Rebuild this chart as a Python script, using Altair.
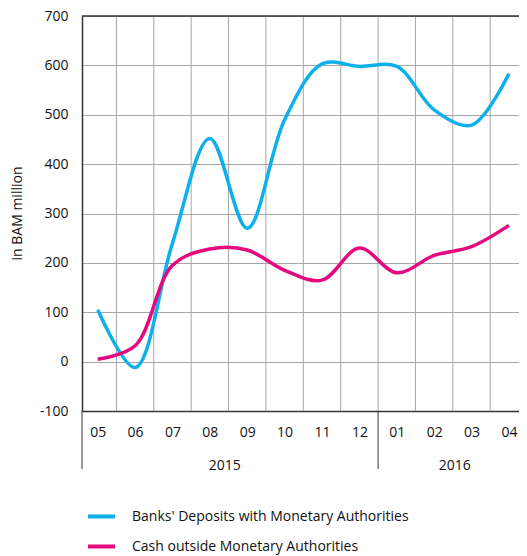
import json
import altair as alt
import pandas as pd

# ---- data ----
months = ["05", "06", "07", "08", "09", "10", "11", "12", "01", "02", "03", "04"]
banks = [105, -12, 240, 452, 270, 490, 603, 598, 598, 510, 479, 583]
cash = [5, 32, 195, 228, 226, 185, 165, 230, 180, 215, 233, 276]
series_names = ["Banks' Deposits with Monetary Authorities", "Cash outside Monetary Authorities"]
series_colors = ["#0db0ea", "#e5097f"]
years = ["2015", "2016"]
year_pos = [3.4, 9.55]
year_breaks = [-0.42, 7.5]
grid_x = [i + 0.5 for i in range(11)]
y_ticks = list(range(-100, 701, 100))
x_min, x_max = -0.42, 11.27

FONT = "Open Sans"
DARK = "#333333"
GRID = "#a6a6a6"
TXT = "#111111"

rows = []
for i, m in enumerate(months):
    rows.append({"idx": i, "month": m, "series": series_names[0], "value": banks[i]})
    rows.append({"idx": i, "month": m, "series": series_names[1], "value": cash[i]})
df = pd.DataFrame(rows)

xscale = alt.Scale(domain=[x_min, x_max], nice=False, zero=False)
yscale = alt.Scale(domain=[-100, 700], nice=False, zero=False)

label_expr = json.dumps(months) + "[datum.value]"

x_axis = alt.Axis(values=list(range(12)), labelExpr=label_expr, grid=False,
                  ticks=False, domain=True, domainColor=DARK, domainWidth=1.5,
                  labelPadding=14, labelFontSize=14, labelColor=TXT,
                  labelFont=FONT, title=None, labelFlush=False)
y_axis = alt.Axis(values=y_ticks, labelExpr="'' + datum.value", grid=True,
                  gridColor=GRID, gridWidth=1,
                  ticks=False, domain=True, domainColor=DARK, domainWidth=1.5,
                  labelPadding=14, labelFontSize=14, labelColor=TXT,
                  labelFont=FONT, title="in BAM million", titleFont=FONT,
                  titleFontSize=14, titleFontWeight="normal", titleColor=TXT,
                  titleAngle=270, titleAlign="center", titleBaseline="middle",
                  titleX=-65, titleY=197)

lines = alt.Chart(df).mark_line(interpolate="catmull-rom", strokeWidth=3.5).encode(
    x=alt.X("idx:Q", scale=xscale, axis=x_axis),
    y=alt.Y("value:Q", scale=yscale, axis=y_axis),
    color=alt.Color("series:N",
                    scale=alt.Scale(domain=series_names, range=series_colors),
                    legend=alt.Legend(title=None, orient="none", legendX=4, legendY=485,
                                      direction="vertical", symbolType="stroke",
                                      symbolSize=729, symbolStrokeWidth=4,
                                      labelFontSize=14, labelFont=FONT, labelColor=TXT,
                                      labelOffset=15, rowPadding=6, padding=0,
                                      labelLimit=400)),
)

vgrid = alt.Chart(pd.DataFrame({"idx": grid_x})).mark_rule(color=GRID, strokeWidth=1).encode(
    x=alt.X("idx:Q", scale=xscale, axis=x_axis)
)

top_border = alt.Chart(pd.DataFrame({"value": [700]})).mark_rule(color=DARK, strokeWidth=1.5).encode(
    y=alt.Y("value:Q", scale=yscale, axis=y_axis)
)

seps = alt.Chart(pd.DataFrame({"idx": year_breaks})).mark_rule(color=DARK, strokeWidth=1).encode(
    x=alt.X("idx:Q", scale=xscale, axis=x_axis),
    y=alt.value(395),
    y2=alt.value(453),
)

year_text = alt.Chart(pd.DataFrame({"idx": year_pos, "year": years})).mark_text(
    fontSize=14, font=FONT, color=TXT, baseline="middle", align="center"
).encode(
    x=alt.X("idx:Q", scale=xscale, axis=x_axis),
    y=alt.value(450),
    text="year:N",
)

chart = alt.layer(vgrid, top_border, seps, year_text, lines).properties(
    width=437, height=395,
    autosize=alt.AutoSizeParams(type="none"),
    padding={"left": 74, "top": 8, "right": 0, "bottom": 145},
).configure(font=FONT).configure_view(stroke=None)

chart.save("out.html", embed_options={"renderer": "svg", "actions": False})
